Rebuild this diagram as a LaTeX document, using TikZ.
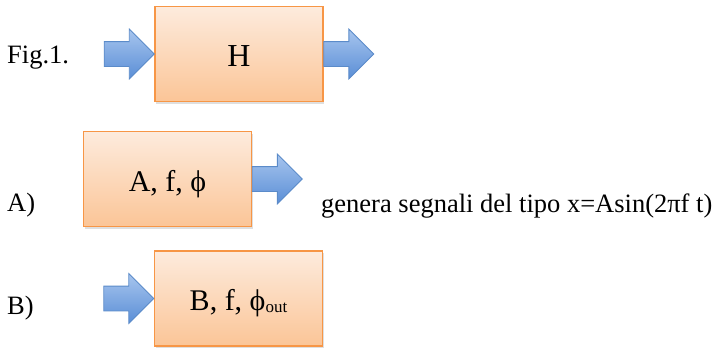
\documentclass[tikz,border=0pt]{standalone}
\usepackage{fontspec}
\setmainfont{Liberation Serif}
\usetikzlibrary{shapes.arrows,shadows}
\definecolor{boxtop}{HTML}{FDEBDD}
\definecolor{boxbot}{HTML}{FBC597}
\definecolor{boxline}{HTML}{F79646}
\definecolor{arrtop}{HTML}{A7C5EE}
\definecolor{arrbot}{HTML}{5A8ED6}
\definecolor{arrline}{HTML}{5B8BC9}
\tikzset{
  blockbox/.style={draw=boxline, line width=1.5pt, top color=boxtop, bottom color=boxbot,
    minimum width=168pt, minimum height=95pt, inner sep=0pt,
    text height=24pt, text depth=0pt, font=\fontsize{30}{32}\selectfont,
    drop shadow={opacity=0.25, shadow xshift=1pt, shadow yshift=-2pt}},
  blockarrow/.style={single arrow, draw=arrline, line width=0.8pt, top color=arrtop, bottom color=arrbot,
    minimum height=50pt, text height=12pt, text depth=12pt, text width=0pt,
    single arrow head extend=12.5pt, single arrow tip angle=90,
    inner sep=0pt, outer sep=0pt},
  lbl/.style={anchor=base west, inner sep=0pt, font=\fontsize{26.5}{28}\selectfont}
}
\begin{document}
\begin{tikzpicture}[x=1pt,y=-1pt]
\useasboundingbox (0,0) rectangle (716,349);
% boxes
\node[blockbox, font=\fontsize{32}{34}\selectfont] (H) at (239,54) {H};
\node[blockbox] (A) at (167.5,179) {A, f, ϕ};
\node[blockbox] (B) at (238.5,298.5) {B, f, ϕ\raisebox{-2pt}{\fontsize{17}{18}\selectfont out}};
% arrows
\node[blockarrow, anchor=tip] (Hin) at (H.west) {};
\node[blockarrow, anchor=tail] (Hout) at (H.east) {};
\node[blockarrow, anchor=tail] (Aout) at (A.east) {};
\node[blockarrow, anchor=tip] (Bin) at (B.west) {};
% labels
\node[lbl] (fig) at (7,63) {Fig.1.};
\node[lbl] (la) at (7,211) {A)};
\node[lbl] (lb) at (7,314) {B)};
\node[lbl] (gen) at (321,212) {genera segnali del tipo x=Asin(2πf t)};
\end{tikzpicture}
\end{document}
